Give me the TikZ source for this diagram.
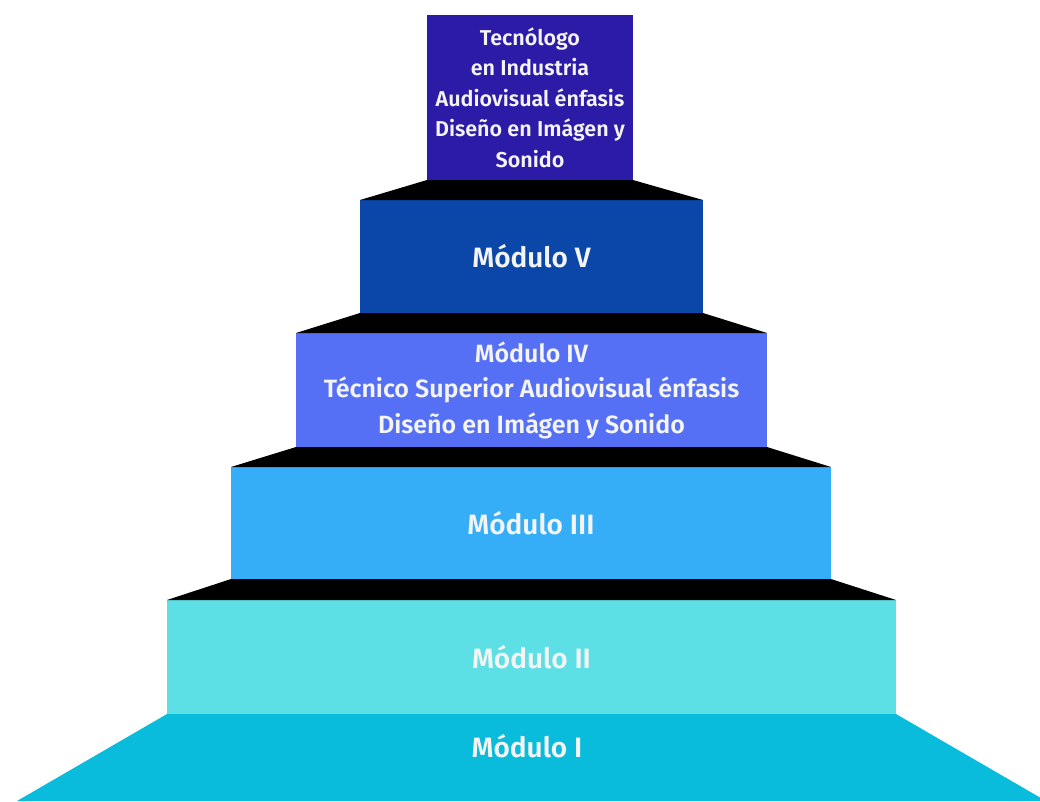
\documentclass[tikz,border=0pt]{standalone}
\usepackage{fontspec}
\setmainfont{Fira Sans SemiBold}
\definecolor{ctop}{HTML}{2B1BA6}
\definecolor{cfive}{HTML}{0B47A8}
\definecolor{cfour}{HTML}{5570F5}
\definecolor{cthree}{HTML}{36AEF7}
\definecolor{ctwo}{HTML}{5CE0E6}
\definecolor{cone}{HTML}{0ABCDC}
\definecolor{txt}{HTML}{F4F4F4}
\begin{document}
\begin{tikzpicture}[x=1pt,y=-1pt,
  stepbox/.style={inner sep=0pt,outer sep=0pt,text=txt,align=center},
  riser/.style={fill=black}]
\useasboundingbox[fill=white] (0,0) rectangle (1040,801);
% bottom module (trapezoid)
\coordinate (m1tl) at (167,714);
\coordinate (m1tr) at (896,714);
\coordinate (m1bl) at (17,801);
\coordinate (m1br) at (1046,801);
\fill[cone] (m1tl) -- (m1tr) -- (m1br) -- (m1bl) -- cycle;
\node[stepbox,font=\fontsize{28}{30}\selectfont] (l1) at (527,746) {Módulo I};
% boxes
\node[stepbox,fill=ctwo,minimum width=729,minimum height=114,font=\fontsize{28}{30}\selectfont] (m2) at (531.5,657) {Módulo II};
\node[stepbox,fill=cthree,minimum width=600,minimum height=112,font=\fontsize{28}{30}\selectfont] (m3) at (531,523) {Módulo III};
\node[stepbox,fill=cfour,minimum width=471,minimum height=114,font=\fontsize{25}{35.5}\selectfont] (m4) at (531.5,390) {Módulo IV\\Técnico Superior Audiovisual énfasis\\Diseño en Imágen y Sonido};
\node[stepbox,fill=cfive,minimum width=343,minimum height=113,font=\fontsize{28}{30}\selectfont] (m5) at (531.5,256.5) {Módulo V};
\node[stepbox,fill=ctop,minimum width=206,minimum height=165,font=\fontsize{21.5}{30.5}\selectfont] (top) at (530,97.5) {Tecnólogo\\en Industria\\Audiovisual énfasis\\Diseño en Imágen y\\Sonido};
% risers
\fill[riser] (top.south west) -- (top.south east) -- (m5.north east) -- (m5.north west) -- cycle;
\fill[riser] (m5.south west) -- (m5.south east) -- (m4.north east) -- (m4.north west) -- cycle;
\fill[riser] (m4.south west) -- (m4.south east) -- (m3.north east) -- (m3.north west) -- cycle;
\fill[riser] (m3.south west) -- (m3.south east) -- (m2.north east) -- (m2.north west) -- cycle;
\end{tikzpicture}
\end{document}
